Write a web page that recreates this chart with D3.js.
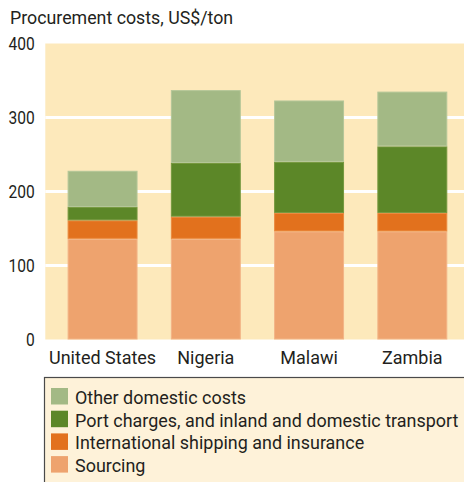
<!DOCTYPE html>
<html><head><meta charset="utf-8">
<script src="https://cdn.jsdelivr.net/npm/d3@7"></script>
<style>
html,body{margin:0;padding:0;background:#fff;}
svg{display:block;}
text{font-family:"Roboto","Liberation Sans",sans-serif;fill:#231f20;}
</style></head>
<body>
<svg id="chart" width="464" height="482"></svg>
<script>
const categories = ["United States", "Nigeria", "Malawi", "Zambia"];
const seriesNames = ["Sourcing", "International shipping and insurance", "Port charges, and inland and domestic transport", "Other domestic costs"];
const sourcing = [136, 136, 146, 146];
const intlShipping = [25, 30, 25, 25];
const portTransport = [18, 72.5, 69, 90];
const otherDomestic = [49, 98.5, 83, 74];
const yTicks = [0, 100, 200, 300, 400];
const colors = ["#eea36e", "#e2711d", "#5c8728", "#a3b985"];
const edgeColors = ["#f2b487", "#ea8a40", "#75983f", "#b4c698"];

const svg = d3.select("#chart");
const plotLeft = 45.3, plotTop = 43.5, plotBottom = 339.5;
const x = d3.scaleBand().domain(categories).range([plotLeft, 469.6]).paddingInner(0.3226).paddingOuter(0.216);
const y = d3.scaleLinear().domain([0, 400]).range([plotBottom, plotTop]);

// title
svg.append("text").attr("transform", "translate(10,24) scale(0.936,1)").attr("font-size", 19).text("Procurement costs, US$/ton");

// background
svg.append("rect").attr("x", plotLeft).attr("y", y(400)).attr("width", 464 - plotLeft).attr("height", y(0) - y(400)).attr("fill", "#fde9bb");

// gridlines
svg.selectAll("line.grid").data(yTicks.filter(d => d > 0 && d < 400)).enter().append("line")
  .attr("x1", plotLeft).attr("x2", 464).attr("y1", d => y(d)).attr("y2", d => y(d))
  .attr("stroke", "#fff").attr("stroke-width", 3);

// axis labels
const yAxis = d3.axisLeft(y).tickValues(yTicks).tickSize(0).tickPadding(13);
const ga = svg.append("g").attr("transform", `translate(${plotLeft},0)`).call(yAxis);
ga.select(".domain").remove();
ga.selectAll("text").attr("font-size", 19).attr("fill", "#231f20")
  .attr("transform", "scale(0.82,1)")
  .style("font-family", '"Roboto",sans-serif');

// stack
const data = categories.map((c, i) => ({cat: c, s0: sourcing[i], s1: intlShipping[i], s2: portTransport[i], s3: otherDomestic[i]}));
const stack = d3.stack().keys(["s0", "s1", "s2", "s3"]);
const layers = stack(data);
layers.forEach((layer, li) => {
  svg.append("g").selectAll("rect").data(layer).enter().append("rect")
    .attr("x", d => x(d.data.cat) + 0.5)
    .attr("width", x.bandwidth() - 1)
    .attr("y", d => y(d[1]) + 0.5)
    .attr("height", d => y(d[0]) - y(d[1]) - 1)
    .attr("fill", colors[li])
    .attr("stroke", edgeColors[li]).attr("stroke-width", 1);
});

// x labels
const xAxis = d3.axisBottom(x).tickSize(0).tickPadding(12);
const gx = svg.append("g").attr("transform", `translate(0,${plotBottom})`).call(xAxis);
gx.select(".domain").remove();
gx.selectAll("text").attr("font-size", 18).attr("fill", "#231f20").style("font-family", '"Roboto",sans-serif');

// legend
svg.append("rect").attr("x", 44.5).attr("y", 377.5).attr("width", 430).attr("height", 120)
  .attr("fill", "#fef2d9").attr("stroke", "#4a4a4a").attr("stroke-width", 1.2);
const legendOrder = [3, 2, 1, 0];
const lg = svg.append("g").selectAll("g").data(legendOrder).enter().append("g")
  .attr("transform", (d, i) => `translate(51,${388 + i * 22.7})`);
lg.append("rect").attr("width", 17).attr("height", 16.5).attr("fill", d => colors[d]);
lg.append("text").attr("transform", "translate(24,16) scale(0.96,1)").attr("font-size", 18.7).text(d => seriesNames[d]);
</script>
</body></html>
